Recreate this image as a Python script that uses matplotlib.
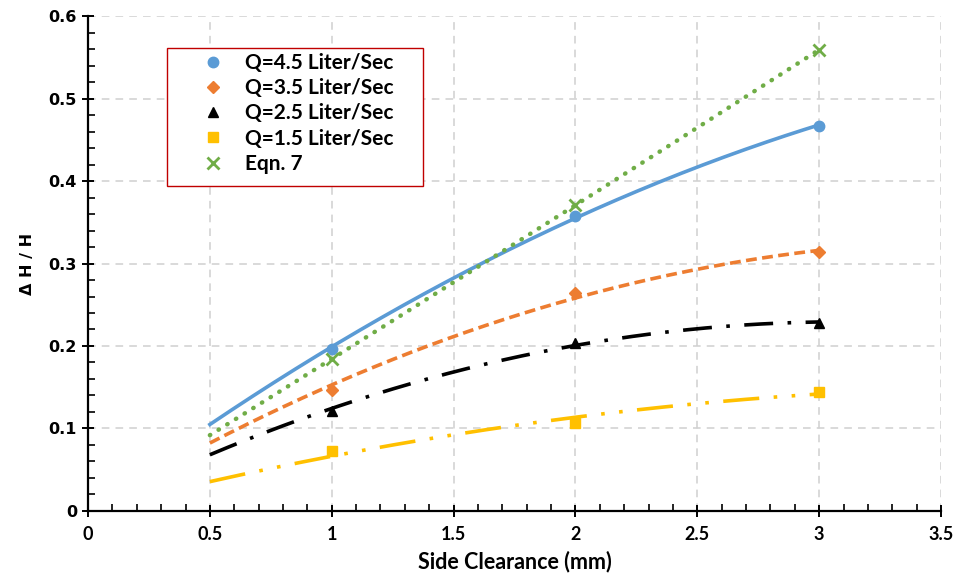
import numpy as np
import matplotlib
matplotlib.use("Agg")
import matplotlib.pyplot as plt
from matplotlib.ticker import MultipleLocator
from matplotlib.patches import Rectangle

# Data
clearance = [1, 2, 3]
q45 = [0.196, 0.358, 0.467]
q35 = [0.147, 0.264, 0.314]
q25 = [0.121, 0.204, 0.228]
q15 = [0.073, 0.107, 0.144]
eqn7 = [0.184, 0.371, 0.559]
labels = ["Q=4.5 Liter/Sec", "Q=3.5 Liter/Sec", "Q=2.5 Liter/Sec",
          "Q=1.5 Liter/Sec", "Eqn. 7"]
trend_range = [0.5, 3.0]

colors = ["#5B9BD5", "#ED7D31", "#000000", "#FFC000", "#70AD47"]
markers = ["o", "D", "^", "s", "x"]
msizes = [7.5, 6, 6.5, 7, 9]
lstyles = ["-", (0, (3, 1.5)), (0, (8, 4, 1, 4)), (0, (10, 4, 1, 4, 1, 4)), (0, (0.1, 2.2))]

fig = plt.figure(figsize=(9.6, 5.87), dpi=100)
ax = fig.add_axes([0.0917, 0.1295, 0.8885, 0.8432])

xs = np.array(clearance, dtype=float)
xfit = np.linspace(trend_range[0], trend_range[1], 200)
series = [q45, q35, q25, q15, eqn7]
handles = []
for ys, c, m, ms, ls, lab in zip(series, colors, markers, msizes, lstyles, labels):
    ys = np.array(ys)
    # 2nd-order polynomial trendline with intercept fixed at zero
    A = np.vstack([xs ** 2, xs]).T
    (a, b), *_ = np.linalg.lstsq(A, ys, rcond=None)
    yfit = a * xfit ** 2 + b * xfit
    lw = 2.6 if c != "#70AD47" else 3.2
    ax.plot(xfit, yfit, color=c, lw=lw, linestyle=ls,
            dash_capstyle="round" if c == "#70AD47" else "butt", zorder=2)
    h, = ax.plot(xs, ys, linestyle="none", marker=m, color=c, ms=ms,
                 mew=2 if m == "x" else 1, label=lab, zorder=3)
    handles.append(h)

ax.set_xlim(0, 3.5)
ax.set_ylim(0, 0.6)
ax.xaxis.set_minor_locator(MultipleLocator(0.1))
ax.yaxis.set_minor_locator(MultipleLocator(0.02))
ax.set_xticks(np.arange(0, 3.51, 0.5))
ax.set_xticklabels(["0", "0.5", "1", "1.5", "2", "2.5", "3", "3.5"])
ax.set_yticks(np.arange(0, 0.61, 0.1))
ax.set_yticklabels(["0", "0.1", "0.2", "0.3", "0.4", "0.5", "0.6"])

ax.grid(True, which="major", color="#D0D0D0", linestyle=(0, (5, 4)), lw=1.1, zorder=0)
ax.set_axisbelow(True)
for s in ["top", "right"]:
    ax.spines[s].set_visible(False)
for s in ["left", "bottom"]:
    ax.spines[s].set_linewidth(1.6)
    ax.spines[s].set_color("black")

ax.tick_params(which="major", direction="inout", length=9, width=1.4)
ax.tick_params(which="minor", direction="in", length=5, width=1.2)
ax.tick_params(axis="x", which="major", pad=6)

for t in ax.get_xticklabels():
    t.set_fontfamily("Lato")
    t.set_fontweight("bold")
    t.set_fontsize(13)
for t in ax.get_yticklabels():
    t.set_fontfamily("DejaVu Sans")
    t.set_fontweight("bold")
    t.set_fontsize(11.5)

ax.set_xlabel("Side Clearance (mm)", fontfamily="Lato", fontweight="bold",
              fontsize=15.5, labelpad=6)
ax.set_ylabel("Δ H / H", fontfamily="DejaVu Sans", fontweight="bold",
              fontsize=11.5, labelpad=10)

# Legend frame
frame = Rectangle((167 / 960, 1 - 186 / 587), 256 / 960, 138 / 587,
                  transform=fig.transFigure, facecolor="white",
                  edgecolor="#C00000", lw=1.0, zorder=4)
fig.add_artist(frame)

leg = fig.legend(handles=handles, labels=labels, loc="upper left",
                 bbox_to_anchor=(192 / 960, 1 - 53 / 587),
                 bbox_transform=fig.transFigure,
                 prop={"family": "Lato", "weight": "bold", "size": 15},
                 frameon=False, borderpad=0, labelspacing=0.25,
                 handlelength=2.0, handletextpad=0.55, borderaxespad=0)
leg.set_zorder(5)

fig.savefig("out.png", dpi=100)
